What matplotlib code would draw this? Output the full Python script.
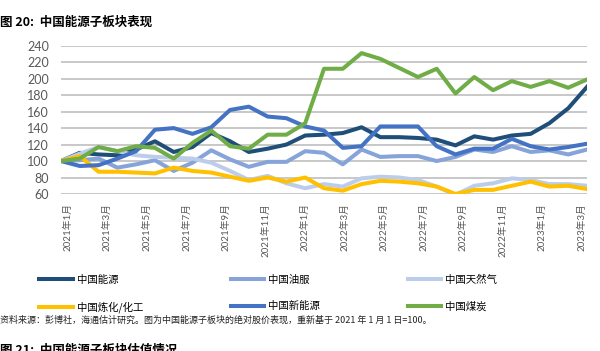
import numpy as np
import matplotlib.pyplot as plt

# 数据（从图中估读，2021年1月=100）
energy = [100, 110, 108, 107, 114, 124, 111, 117, 134, 124, 111, 115, 120, 131, 132,
          134, 141, 129, 129, 128, 126, 119, 130, 126, 131, 133, 146, 164, 190]
oil_service = [100, 101, 103, 92, 96, 101, 88, 98, 113, 102, 93, 99, 99, 112, 110,
               96, 114, 105, 106, 106, 100, 105, 114, 111, 118, 111, 113, 108, 114]
natural_gas = [100, 109, 117, 112, 107, 105, 104, 103, 98, 88, 77, 82, 73, 67, 72,
               69, 79, 81, 80, 77, 69, 59, 70, 73, 79, 77, 72, 72, 70]
refining = [100, 106, 87, 87, 86, 85, 92, 88, 86, 81, 76, 80, 75, 80, 67,
            64, 72, 76, 75, 73, 69, 60, 65, 65, 70, 75, 69, 70, 66]
new_energy = [100, 94, 95, 103, 112, 138, 140, 133, 141, 162, 166, 154, 152, 142, 137,
              116, 118, 142, 142, 142, 118, 108, 115, 115, 127, 118, 114, 117, 121]
coal = [100, 103, 117, 112, 118, 116, 103, 122, 137, 118, 115, 132, 132, 146, 212,
        212, 231, 224, 213, 202, 212, 182, 202, 186, 197, 190, 197, 189, 199]

tick_labels = ['2021年1月', '2021年3月', '2021年5月', '2021年7月', '2021年9月', '2021年11月',
               '2022年1月', '2022年3月', '2022年5月', '2022年7月', '2022年9月', '2022年11月',
               '2023年1月', '2023年3月']

series = [
    ('中国能源', energy, '#1F4E79'),
    ('中国油服', oil_service, '#86A4DA'),
    ('中国天然气', natural_gas, '#BCCDEB'),
    ('中国炼化/化工', refining, '#FFC000'),
    ('中国新能源', new_energy, '#4472C4'),
    ('中国煤炭', coal, '#70AD47'),
]

cjk = ['Noto Sans CJK SC', 'DejaVu Sans']
num = ['Lato', 'Noto Sans CJK SC']

fig = plt.figure(figsize=(6, 3.51), dpi=100)
ax = fig.add_axes([61 / 600, 1 - 194 / 351, 526 / 600, 148.3 / 351])

x = np.arange(len(energy))
lines = []
for name, vals, color in series:
    ln, = ax.plot(x, vals, color=color, lw=2.9, label=name, solid_joinstyle='round')
    lines.append(ln)

ax.set_xlim(0, len(energy) - 1)
ax.set_ylim(60, 240)
ax.set_yticks(np.arange(60, 241, 20))
ax.grid(axis='y', color='#BFBFBF', lw=1.2)
ax.set_axisbelow(True)
for s in ax.spines.values():
    s.set_visible(False)

ticks = 0.36 + np.arange(len(tick_labels)) * 2.105
ax.set_xticks(ticks)
ax.set_xticklabels(tick_labels, rotation=90, fontsize=7, family=num, color='#595959')
for lab in ax.get_yticklabels():
    lab.set_family(num)
    lab.set_fontsize(9)
    lab.set_color('#595959')
ax.tick_params(axis='y', length=0, pad=8.5)
ax.tick_params(axis='x', length=0, pad=6.5)

# 图例按行排列：第一行 能源/油服/天然气，第二行 炼化/新能源/煤炭
order = [0, 3, 1, 4, 2, 5]
fig.legend([lines[i] for i in order], [series[i][0] for i in order],
           loc='upper left', bbox_to_anchor=(30 / 600, 1 - 265 / 351), ncol=3,
           frameon=False, prop={'family': cjk, 'size': 7.5},
           handlelength=3.2, handletextpad=0.4, columnspacing=8.4,
           labelspacing=1.6)

fig.text(0.0, 1 - 22 / 351, '图 20:  中国能源子板块表现', family=cjk, fontsize=9,
         fontweight='bold', va='center', ha='left')
fig.text(0.0, 1 - 320 / 351,
         '资料来源：彭博社，海通估计研究。图为中国能源子板块的绝对股价表现，重新基于 2021 年 1 月 1 日=100。',
         family=cjk, fontsize=6.5, va='center', ha='left', color='#222222')
fig.text(0.0, 1 - 350 / 351, '图 21:  中国能源子板块估值情况', family=cjk, fontsize=9,
         fontweight='bold', va='center', ha='left')

fig.savefig('out.png', dpi=100)
